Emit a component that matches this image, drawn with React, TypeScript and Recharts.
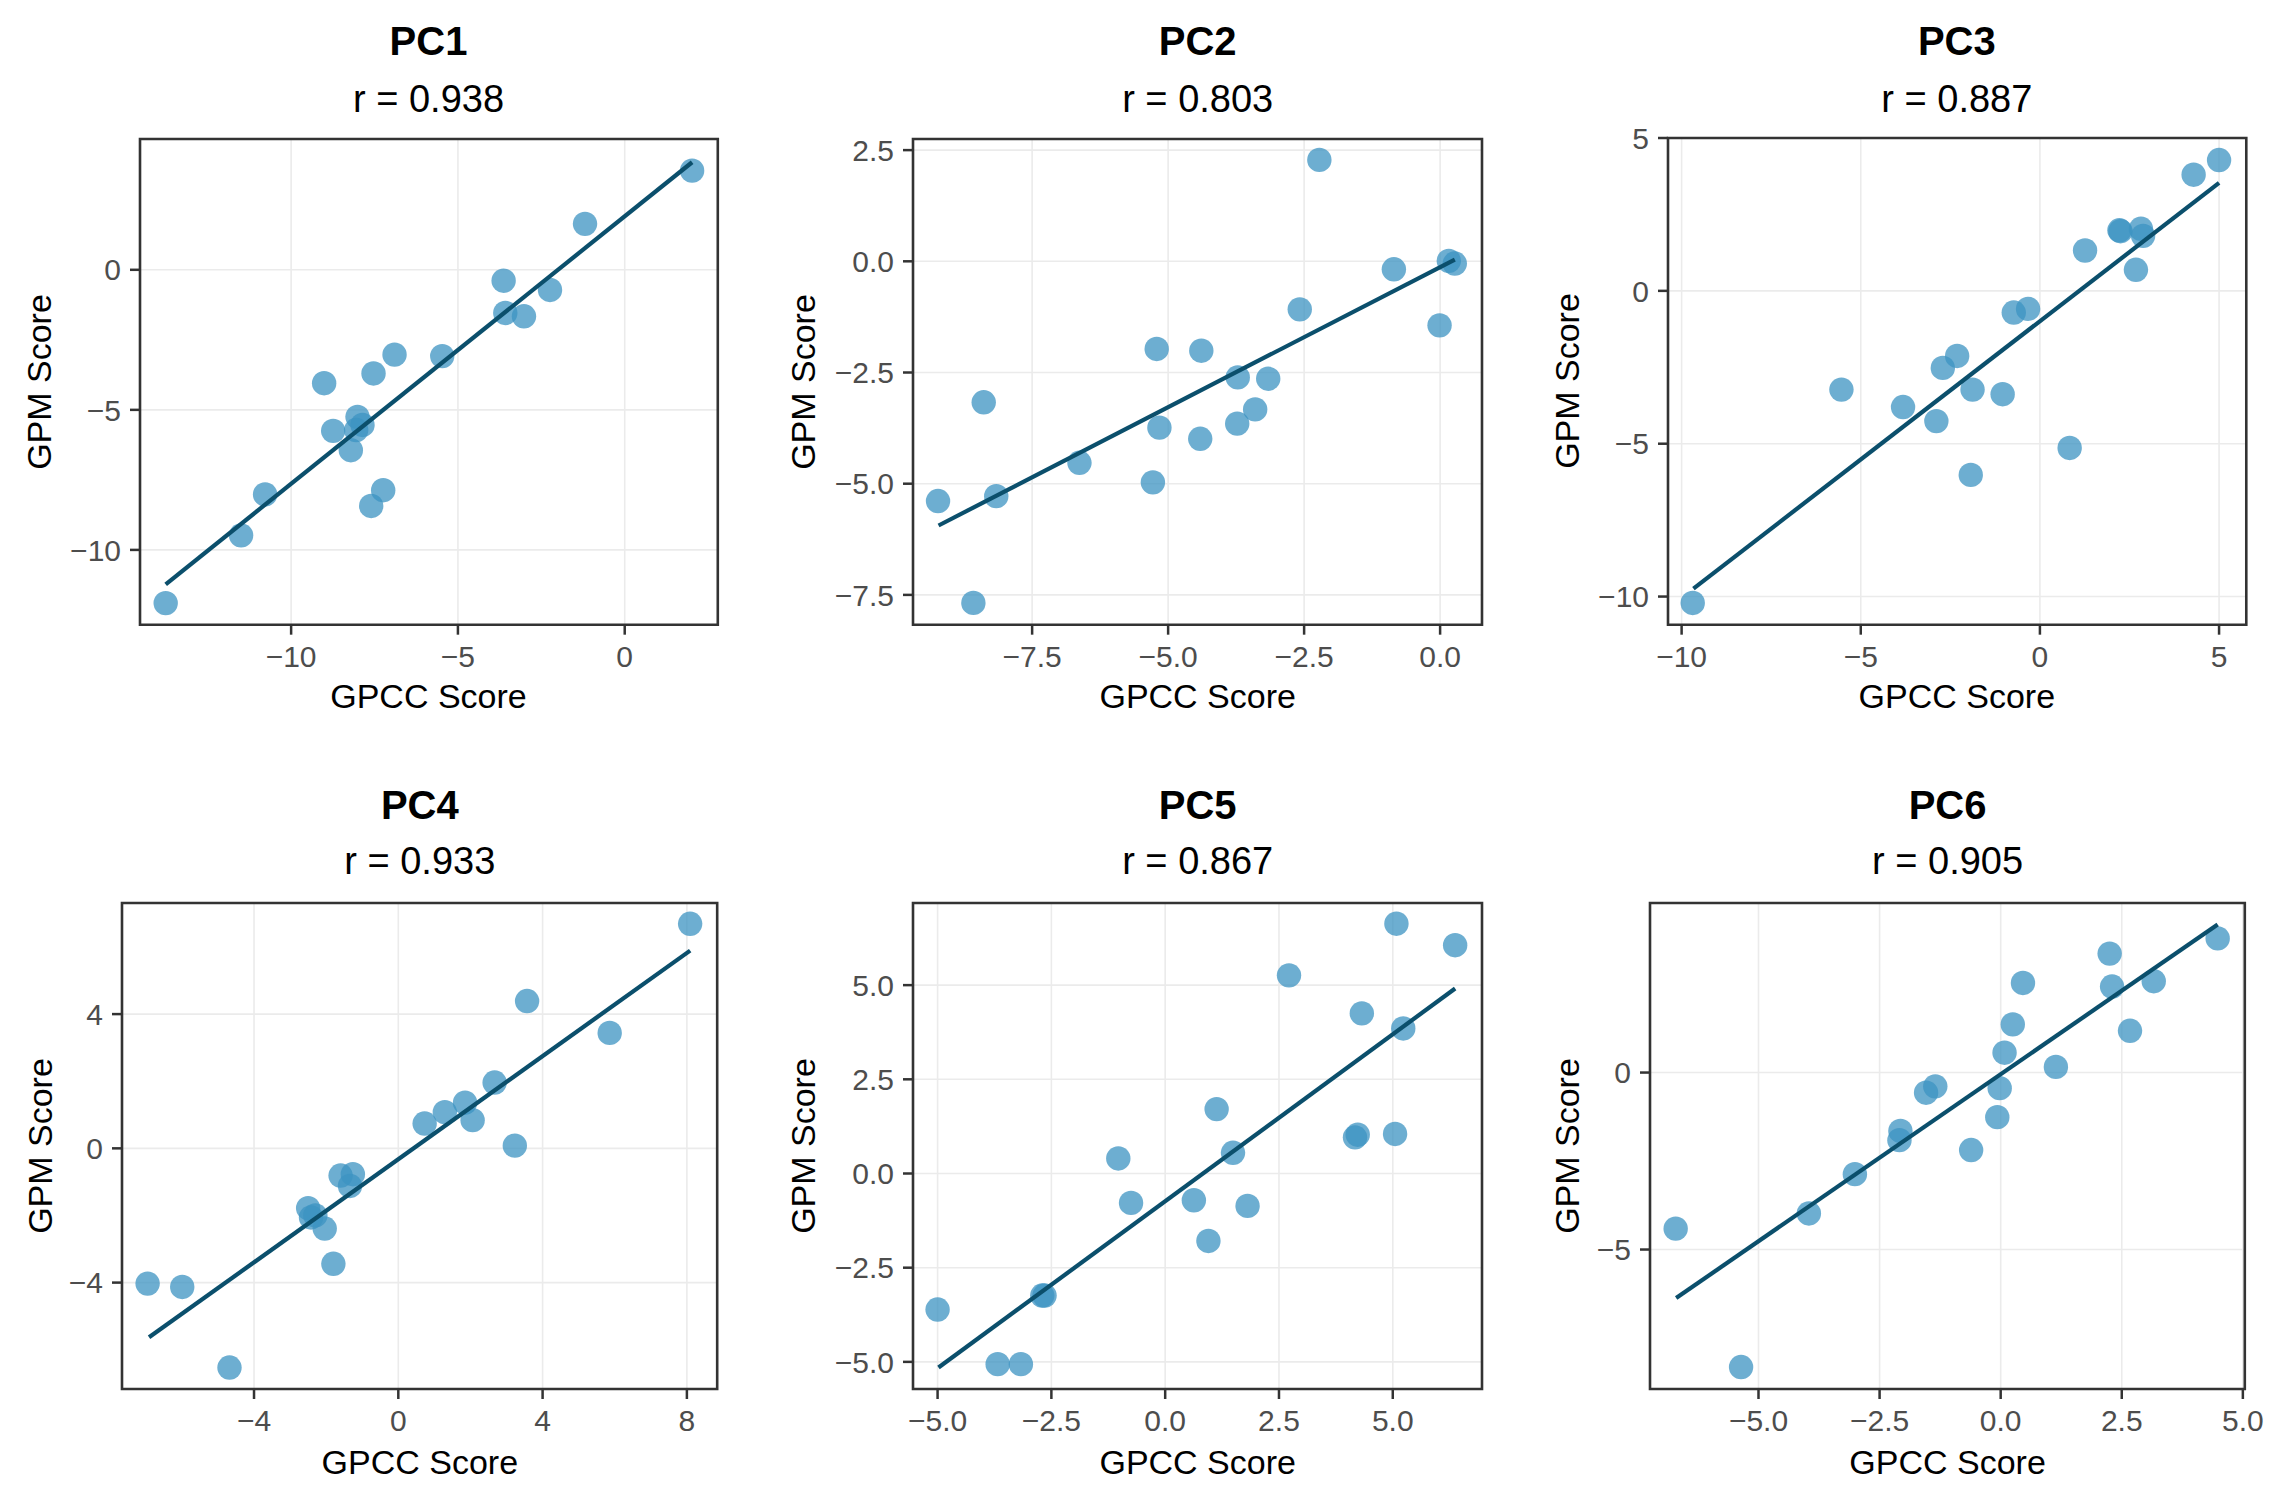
import React from 'react';
import {
  ScatterChart,
  Scatter,
  XAxis,
  YAxis,
  CartesianGrid,
  ReferenceArea,
} from 'recharts';

const titles = ['PC1', 'PC2', 'PC3', 'PC4', 'PC5', 'PC6'];
const rValues = ['0.938', '0.803', '0.887', '0.933', '0.867', '0.905'];

const pc1X = [-13.76, -11.5, -10.78, -9.01, -8.74, -8.01, -7.86, -8.21, -8.05, -7.53, -6.9, -7.6, -7.24, -5.47, -3.63, -3.58, -3.02, -2.24, -1.19, 2.02];
const pc1Y = [-11.9, -9.48, -8.02, -4.05, -5.75, -5.25, -5.54, -6.44, -5.72, -3.7, -3.03, -8.43, -7.87, -3.08, -0.39, -1.54, -1.66, -0.72, 1.64, 3.54];

const pc2X = [-9.23, -8.58, -8.39, -8.16, -6.63, -5.28, -5.21, -5.16, -4.41, -4.39, -3.72, -3.73, -3.4, -3.16, -2.58, -2.22, -0.85, -0.01, 0.16, 0.27];
const pc2Y = [-5.39, -7.68, -3.17, -5.28, -4.53, -4.97, -1.97, -3.74, -3.99, -2.01, -2.61, -3.65, -3.33, -2.64, -1.08, 2.28, -0.18, -1.44, 0.01, -0.05];

const pc3X = [-9.69, -5.54, -3.82, -2.89, -2.71, -2.31, -1.88, -1.93, -1.04, -0.73, -0.33, 0.83, 1.26, 2.22, 2.25, 2.82, 2.88, 2.68, 4.29, 5.0];
const pc3Y = [-10.21, -3.23, -3.8, -4.26, -2.52, -2.13, -3.23, -6.02, -3.38, -0.71, -0.59, -5.14, 1.32, 1.98, 1.95, 2.03, 1.8, 0.69, 3.8, 4.28];

const pc4X = [-6.95, -5.99, -4.68, -2.5, -2.42, -2.3, -2.04, -1.8, -1.6, -1.26, -1.34, 0.73, 1.29, 1.85, 2.06, 2.67, 3.23, 3.57, 5.86, 8.09];
const pc4Y = [-4.03, -4.13, -6.53, -1.78, -2.06, -2.0, -2.39, -3.44, -0.81, -0.77, -1.12, 0.74, 1.08, 1.36, 0.84, 1.96, 0.08, 4.39, 3.44, 6.69];

const pc5X = [-5.0, -3.68, -3.17, -2.7, -2.65, -1.03, -0.75, 0.63, 0.95, 1.13, 1.49, 1.81, 2.72, 4.17, 4.23, 4.32, 5.05, 5.08, 5.23, 6.37];
const pc5Y = [-3.61, -5.06, -5.06, -3.24, -3.24, 0.4, -0.78, -0.71, -1.79, 1.71, 0.55, -0.86, 5.26, 0.96, 1.03, 4.25, 1.05, 6.63, 3.85, 6.06];

const pc6X = [-6.71, -5.36, -3.96, -3.01, -2.07, -2.09, -1.54, -1.35, -0.61, -0.07, -0.02, 0.08, 0.25, 0.46, 1.14, 2.25, 2.3, 2.67, 3.16, 4.48];
const pc6Y = [-4.41, -8.32, -3.98, -2.87, -1.65, -1.91, -0.57, -0.39, -2.19, -1.26, -0.44, 0.56, 1.36, 2.53, 0.16, 3.36, 2.43, 1.18, 2.58, 3.79];

// lm fit line end points
const fitX = [[-13.76, 2.02], [-9.22, 0.27], [-9.67, 5.0], [-6.91, 8.09], [-4.98, 6.37], [-6.7, 4.48]];
const fitY = [[-11.23, 3.84], [-5.94, 0.04], [-9.74, 3.53], [-5.63, 5.89], [-5.15, 4.91], [-6.37, 4.18]];

const xDomains = [[-14.53, 2.79], [-9.69, 0.77], [-10.38, 5.76], [-7.66, 8.84], [-5.54, 6.96], [-7.24, 5.04]];
const yDomains = [[-12.67, 4.67], [-8.17, 2.75], [-10.92, 5.0], [-7.17, 7.31], [-5.72, 7.18], [-8.94, 4.79]];

const xTicks = [[-10, -5, 0], [-7.5, -5, -2.5, 0], [-10, -5, 0, 5], [-4, 0, 4, 8], [-5, -2.5, 0, 2.5, 5], [-5, -2.5, 0, 2.5, 5]];
const xTickLabels = [
  ['−10', '−5', '0'],
  ['−7.5', '−5.0', '−2.5', '0.0'],
  ['−10', '−5', '0', '5'],
  ['−4', '0', '4', '8'],
  ['−5.0', '−2.5', '0.0', '2.5', '5.0'],
  ['−5.0', '−2.5', '0.0', '2.5', '5.0'],
];
const yTicks = [[-10, -5, 0], [-7.5, -5, -2.5, 0, 2.5], [-10, -5, 0, 5], [-4, 0, 4], [-5, -2.5, 0, 2.5, 5], [-5, 0]];
const yTickLabels = [
  ['−10', '−5', '0'],
  ['−7.5', '−5.0', '−2.5', '0.0', '2.5'],
  ['−10', '−5', '0', '5'],
  ['−4', '0', '4'],
  ['−5.0', '−2.5', '0.0', '2.5', '5.0'],
  ['−5', '0'],
];

const xsAll = [pc1X, pc2X, pc3X, pc4X, pc5X, pc6X];
const ysAll = [pc1Y, pc2Y, pc3Y, pc4Y, pc5Y, pc6Y];

// panel boxes in page px: left, top, right, bottom
const boxes = [
  [139.6, 138.7, 717.4, 624.4],
  [913.2, 138.7, 1482.2, 624.4],
  [1667.7, 137.7, 2246, 624.4],
  [122.2, 903, 717.4, 1389],
  [913.2, 903, 1482.2, 1389],
  [1650.2, 903, 2245, 1389],
];
const yTitleX = [38.8, 803, 1567, 39.5, 803, 1567];
const titleY = [41.3, 804.7];
const subY = [98.7, 861];
const xTitleY = [695.6, 1461.5];

const FONT = "'Liberation Sans', Arial, Helvetica, sans-serif";
const AX_W = 140;
const AX_H = 110;
const PAD_T = 40;
const PAD_R = 34;

const Dot = (props: any) => (
  <circle cx={props.cx} cy={props.cy} r={12.2} fill="#3C93C2" fillOpacity={0.75} />
);
const NoDot = () => <g />;

function Panel({ i }: { i: number }) {
  const [l, t, r, b] = boxes[i];
  const bw = r - l;
  const bh = b - t;
  const pts = xsAll[i].map((x, k) => ({ x, y: ysAll[i][k] }));
  const fit = fitX[i].map((x, k) => ({ x, y: fitY[i][k] }));
  const xFmt = (v: number) => xTickLabels[i][xTicks[i].indexOf(v)] ?? String(v);
  const yFmt = (v: number) => yTickLabels[i][yTicks[i].indexOf(v)] ?? String(v);
  const row = i < 3 ? 0 : 1;
  const cx = (l + r) / 2;
  const tickStyle = { fill: '#4D4D4D', fontSize: 30, fontFamily: FONT };
  const tickLine = { stroke: '#333333', strokeWidth: 2.5 };
  return (
    <>
      <div style={{ position: 'absolute', left: cx, top: titleY[row], transform: 'translate(-50%,-50%)', fontSize: 40, fontWeight: 'bold', whiteSpace: 'nowrap' }}>
        {titles[i]}
      </div>
      <div style={{ position: 'absolute', left: cx, top: subY[row], transform: 'translate(-50%,-50%)', fontSize: 38, whiteSpace: 'nowrap' }}>
        r = {rValues[i]}
      </div>
      <div style={{ position: 'absolute', left: cx, top: xTitleY[row], transform: 'translate(-50%,-50%)', fontSize: 34, whiteSpace: 'nowrap' }}>
        GPCC Score
      </div>
      <div style={{ position: 'absolute', left: yTitleX[i], top: (t + b) / 2, transform: 'translate(-50%,-50%) rotate(-90deg)', fontSize: 34, whiteSpace: 'nowrap' }}>
        GPM Score
      </div>
      <div style={{ position: 'absolute', left: l - AX_W, top: t - PAD_T }}>
        <ScatterChart
          width={bw + AX_W + PAD_R}
          height={bh + PAD_T + AX_H}
          margin={{ top: PAD_T, right: PAD_R, bottom: 0, left: 0 }}
        >
          <CartesianGrid stroke="#EBEBEB" strokeWidth={1.6} />
          <XAxis
            type="number"
            dataKey="x"
            domain={xDomains[i]}
            allowDataOverflow
            ticks={xTicks[i]}
            interval={0}
            tickFormatter={xFmt}
            height={AX_H}
            axisLine={false}
            tickLine={tickLine}
            tickSize={10}
            tickMargin={11}
            tick={tickStyle}
          />
          <YAxis
            type="number"
            dataKey="y"
            domain={yDomains[i]}
            allowDataOverflow
            ticks={yTicks[i]}
            interval={0}
            tickFormatter={yFmt}
            width={AX_W}
            axisLine={false}
            tickLine={tickLine}
            tickSize={10}
            tickMargin={9}
            tick={tickStyle}
          />
          <Scatter data={pts} shape={Dot} isAnimationActive={false} />
          <Scatter
            data={fit}
            shape={NoDot}
            line={{ stroke: '#0B4F6C', strokeWidth: 4.2 }}
            isAnimationActive={false}
          />
          <ReferenceArea
            x1={xDomains[i][0]}
            x2={xDomains[i][1]}
            y1={yDomains[i][0]}
            y2={yDomains[i][1]}
            fill="none"
            stroke="#333333"
            strokeWidth={2.6}
            ifOverflow="visible"
          />
        </ScatterChart>
      </div>
    </>
  );
}

export default function App() {
  return (
    <div
      style={{
        position: 'absolute',
        left: 0,
        top: 0,
        width: 2282,
        height: 1498,
        background: '#ffffff',
        fontFamily: FONT,
        color: '#000000',
        overflow: 'hidden',
      }}
    >
      {titles.map((_, i) => (
        <Panel key={i} i={i} />
      ))}
    </div>
  );
}
